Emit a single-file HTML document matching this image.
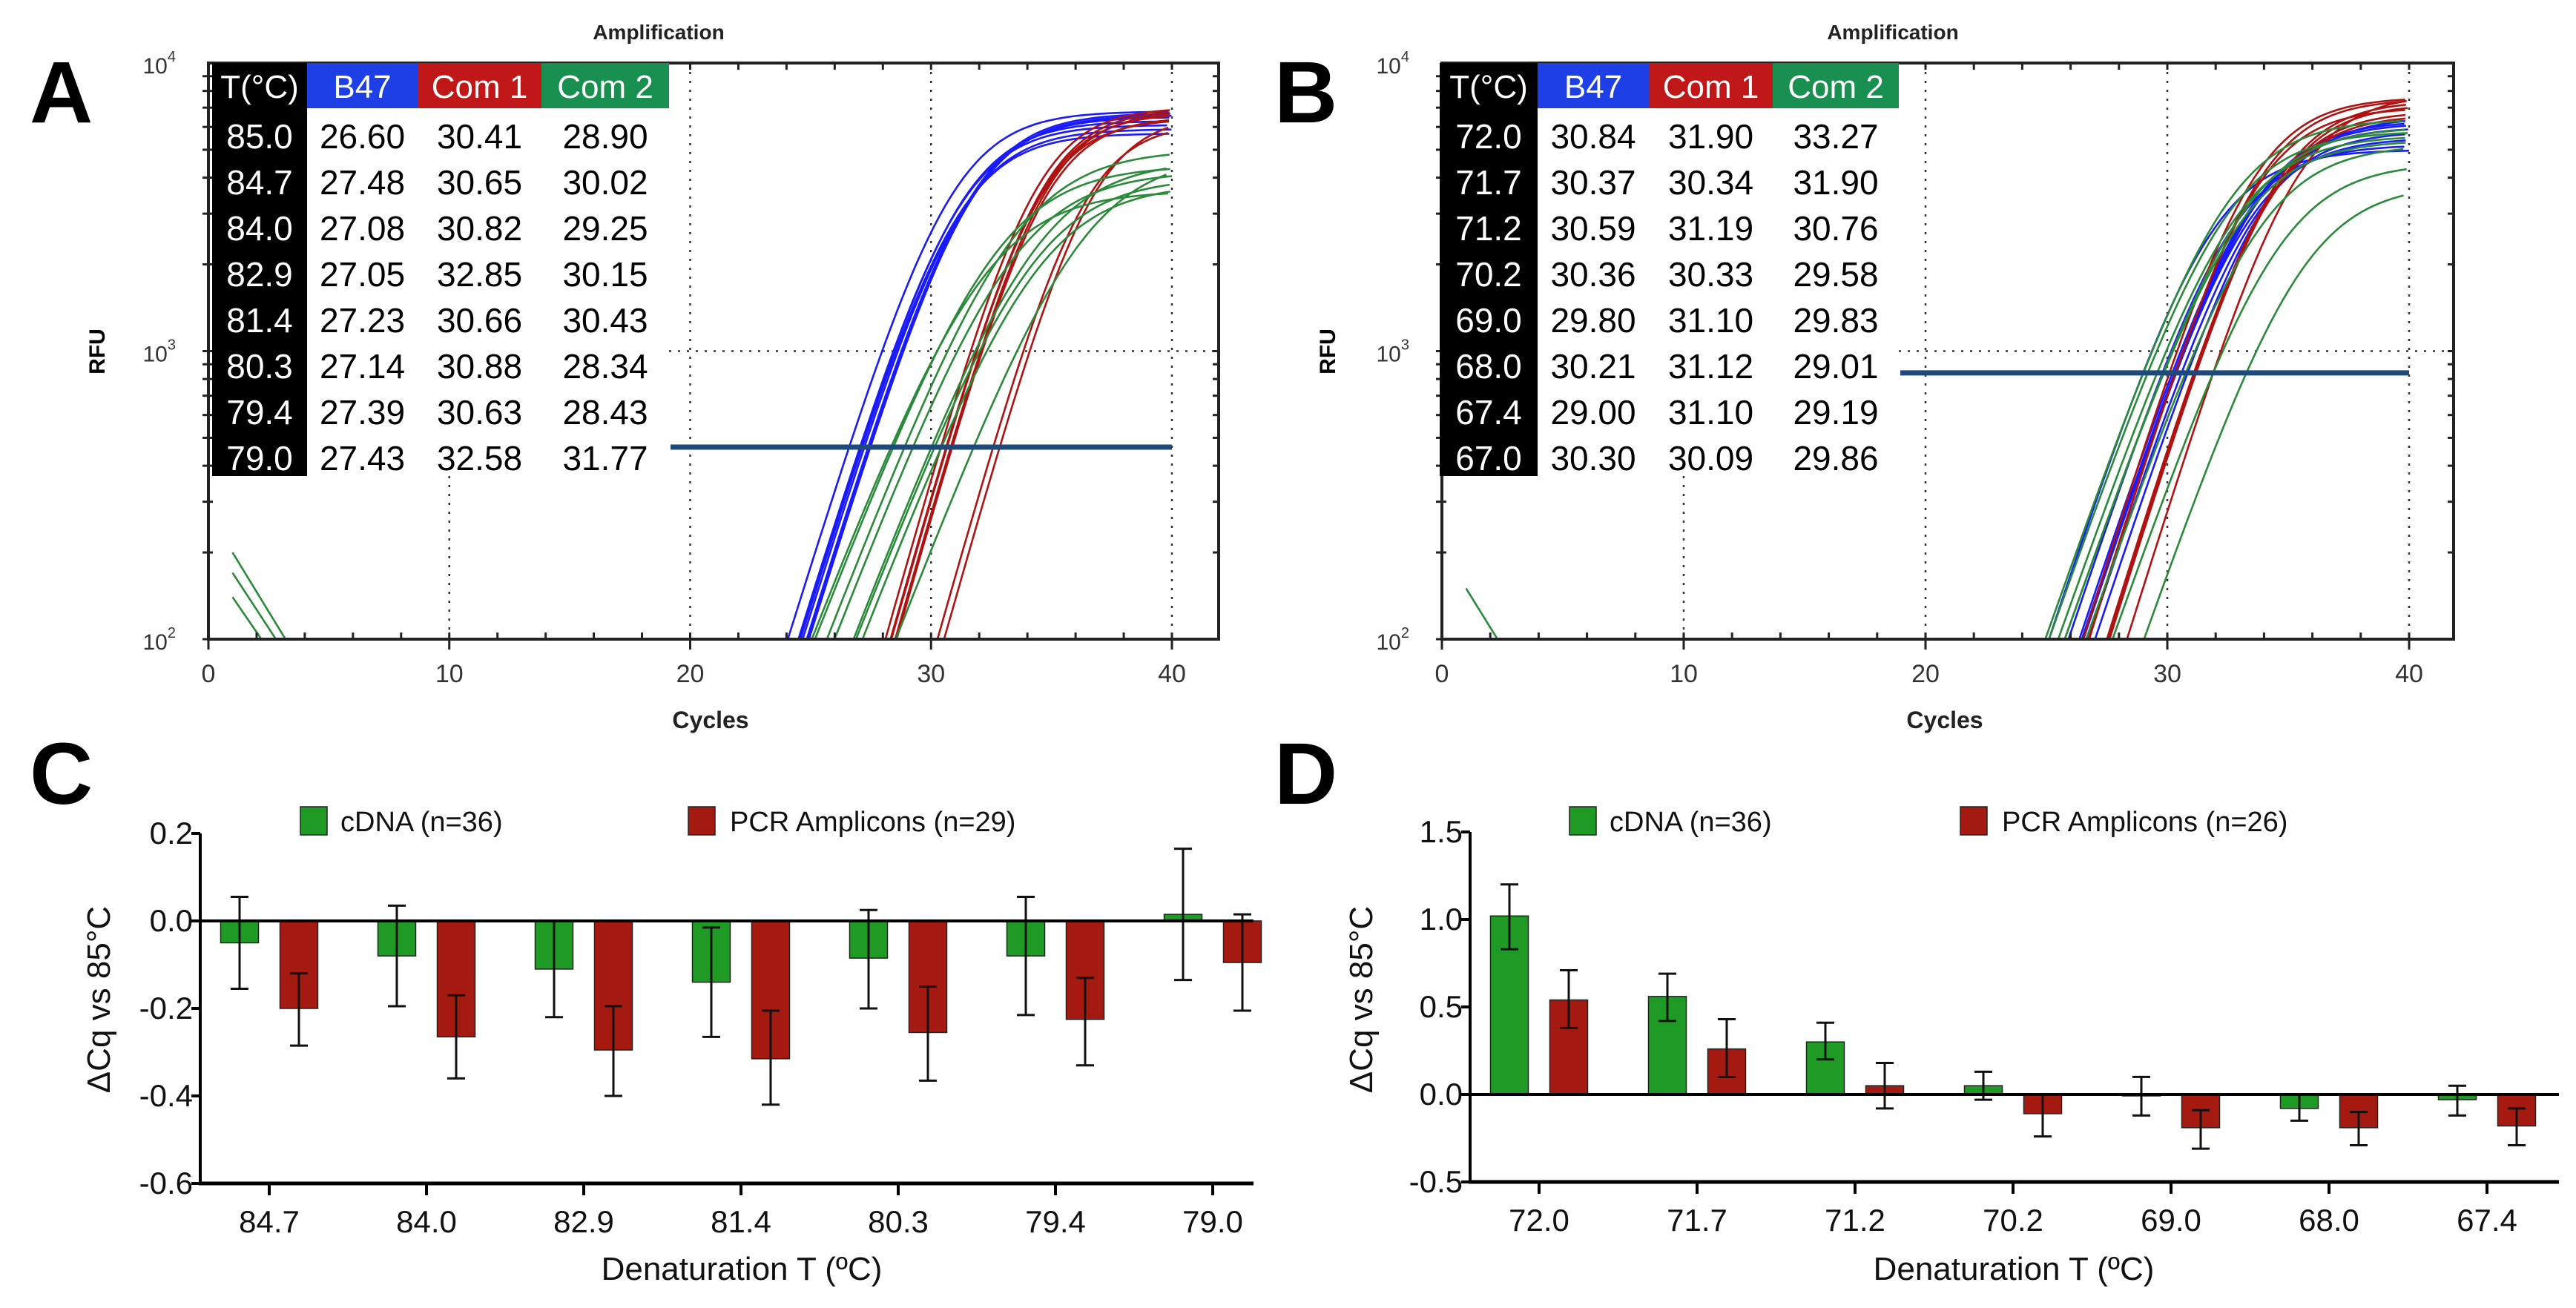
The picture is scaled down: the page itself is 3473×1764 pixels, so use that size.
<!DOCTYPE html>
<html><head><meta charset="utf-8">
<style>
html,body{margin:0;padding:0;background:#fff;}
svg{display:block;font-family:"Liberation Sans",sans-serif;}
</style></head>
<body>
<svg id="fig" width="3473" height="1764" viewBox="0 0 3473 1764" xmlns="http://www.w3.org/2000/svg"></svg>
<script>
// ---------- DATA ----------
// Panel A table / Cq values
const tempsA = ["85.0","84.7","84.0","82.9","81.4","80.3","79.4","79.0"];
const cqA_B47 = [26.60,27.48,27.08,27.05,27.23,27.14,27.39,27.43];
const cqA_Com1 = [30.41,30.65,30.82,32.85,30.66,30.88,30.63,32.58];
const cqA_Com2 = [28.90,30.02,29.25,30.15,30.43,28.34,28.43,31.77];
const plateauA_B47 = [6800,6600,6300,6100,5900,5700,6500,6700];
const plateauA_Com1 = [7000,6900,6800,6600,6700,6500,6400,6200];
const plateauA_Com2 = [5000,4600,4200,4000,3800,3600,4400,4800];
const thresholdA = 464;
// Panel B table / Cq values
const tempsB = ["72.0","71.7","71.2","70.2","69.0","68.0","67.4","67.0"];
const cqB_B47 = [30.84,30.37,30.59,30.36,29.80,30.21,29.00,30.30];
const cqB_Com1 = [31.90,30.34,31.19,30.33,31.10,31.12,31.10,30.09];
const cqB_Com2 = [33.27,31.90,30.76,29.58,29.83,29.01,29.19,29.86];
const plateauB_B47 = [6500,6200,5800,5500,5200,6000,5000,6300];
const plateauB_Com1 = [7800,7500,7200,7000,6800,7400,6600,7600];
const plateauB_Com2 = [3800,4500,5200,5600,6000,6400,5800,5400];
const thresholdB = 840;
// Panel C
const catsC = ["84.7","84.0","82.9","81.4","80.3","79.4","79.0"];
const cDNA_C = [-0.05,-0.08,-0.11,-0.14,-0.085,-0.08,0.015];
const cDNA_C_lo = [-0.155,-0.195,-0.22,-0.265,-0.2,-0.215,-0.135];
const cDNA_C_hi = [0.055,0.035,0.0,-0.015,0.025,0.055,0.165];
const pcr_C = [-0.2,-0.265,-0.295,-0.315,-0.255,-0.225,-0.095];
const pcr_C_lo = [-0.285,-0.36,-0.4,-0.42,-0.365,-0.33,-0.205];
const pcr_C_hi = [-0.12,-0.17,-0.195,-0.205,-0.15,-0.13,0.015];
const ticksC = [0.2,0.0,-0.2,-0.4,-0.6];
const tickLabelsC = ["0.2","0.0","-0.2","-0.4","-0.6"];
// Panel D
const catsD = ["72.0","71.7","71.2","70.2","69.0","68.0","67.4"];
const cDNA_D = [1.02,0.56,0.30,0.05,0.0,-0.08,-0.03];
const cDNA_D_lo = [0.83,0.42,0.20,-0.03,-0.12,-0.15,-0.12];
const cDNA_D_hi = [1.20,0.69,0.41,0.13,0.10,0.0,0.05];
const pcr_D = [0.54,0.26,0.05,-0.11,-0.19,-0.19,-0.18];
const pcr_D_lo = [0.38,0.10,-0.08,-0.24,-0.31,-0.29,-0.29];
const pcr_D_hi = [0.71,0.43,0.18,0.0,-0.09,-0.10,-0.08];
const ticksD = [1.5,1.0,0.5,0.0,-0.5];
const tickLabelsD = ["1.5","1.0","0.5","0.0","-0.5"];

// ---------- helpers ----------
const NS="http://www.w3.org/2000/svg";
const svg=document.getElementById('fig');
function mk(tag,attrs,parent){const e=document.createElementNS(NS,tag);for(const k in attrs)e.setAttribute(k,attrs[k]);(parent||svg).appendChild(e);return e;}
function txt(s,attrs,parent){const e=mk('text',attrs,parent);e.textContent=s;return e;}

const BLUE="#1a1aff",RED="#b01212",GREEN="#2a8a3a";

function letter(ch,x,y,name){
  const t=txt(ch,{x:x,y:y,'font-size':118,'font-weight':'bold','font-family':'"Liberation Sans",sans-serif'});
  
  
}

function ampPanel(cfg){
  const g=mk('g',{});
  
  
  const x0=cfg.x0,x40=cfg.x40,xr=cfg.xr,yt=85,yb=862;
  const xs=c=>x0+(x40-x0)*c/40;
  const ys=v=>yb-(Math.log10(v)-2)/2*(yb-yt);
  // title
  const ti=txt('Amplification',{x:cfg.titleX,y:53,'font-size':28,'font-weight':'bold','text-anchor':'middle',fill:'#222'},g);
  
  
  // gridlines dotted
  const tableR=cfg.cols[4], tableB=85+61+8*62;
  [10,20,30,40].forEach(c=>{
    const x=xs(c);const top=(x<tableR)?tableB:yt;
    const l=mk('line',{x1:x,y1:top,x2:x,y2:yb,stroke:'#333','stroke-width':2.5,'stroke-dasharray':'3,9'},g);
    
    
  });
  const hg=mk('line',{x1:tableR,y1:ys(1000),x2:xr,y2:ys(1000),stroke:'#333','stroke-width':2.5,'stroke-dasharray':'3,9'},g);
  
  
  // curves
  const clip=mk('clipPath',{id:'clip'+cfg.name},g);
  mk('rect',{x:x0,y:yt,width:xr-x0,height:yb-yt},clip);
  const cg=mk('g',{'clip-path':'url(#clip'+cfg.name+')'},g);
  cfg.series.forEach(s=>{
    s.cq.forEach((cq,i)=>{
      const F=s.plateau[i],sl=s.slope;
      const cm=cq+sl*Math.log(F/cfg.thr-1);
      let d='';
      for(let c=cq-6;c<=40.001;c+=0.25){
        const v=F/(1+Math.exp(-(c-cm)/sl));
        d+=(d?'L':'M')+xs(c).toFixed(1)+','+ys(Math.max(v,20)).toFixed(1);
      }
      const p=mk('path',{d:d,fill:'none',stroke:s.color,'stroke-width':2.6},cg);
      
      
    });
  });
  // early drift fragments
  cfg.drift.forEach(dv=>{
    const p=mk('path',{d:'M'+xs(1)+','+ys(dv[0])+' L'+xs(dv[2])+','+ys(dv[1]),fill:'none',stroke:GREEN,'stroke-width':2.6},cg);
    
    
  });
  // threshold
  const th=mk('line',{x1:tableR+2,y1:ys(cfg.thr),x2:x40,y2:ys(cfg.thr),stroke:'#1d4a7a','stroke-width':7},g);
  
  
  // frame
  const fr=mk('rect',{x:x0,y:yt,width:xr-x0,height:yb-yt,fill:'none',stroke:'#222','stroke-width':4},g);
  
  
  // x ticks
  for(let c=0;c<=42;c+=2){
    const x=xs(c);if(x>xr)break;
    const big=c%10===0;
    mk('line',{x1:x,y1:yb-9,x2:x,y2:yb+(big?14:0),stroke:'#222','stroke-width':3},g);
    mk('line',{x1:x,y1:yt,x2:x,y2:yt+9,stroke:'#222','stroke-width':3},g);
    if(big){const t=txt(String(c),{x:x,y:920,'font-size':34,'text-anchor':'middle',fill:'#333'},g);
      
      }
  }
  // y ticks log
  for(let e=2;e<4;e++)for(let m=1;m<10;m++){
    const y=ys(m*Math.pow(10,e));
    mk('line',{x1:x0-8,y1:y,x2:x0+(m===1?12:6),y2:y,stroke:'#222','stroke-width':3},g);
    mk('line',{x1:xr-8,y1:y,x2:xr,y2:y,stroke:'#222','stroke-width':3},g);
  }
  [2,3,4].forEach(e=>{
    const y=ys(Math.pow(10,e));
    const t=txt('10',{x:x0-44,y:y+14,'font-size':30,'text-anchor':'end',fill:'#333'},g);
    const sup=mk('tspan',{dy:-16,'font-size':20},t);sup.textContent=String(e);
    
    
  });
  const ya=txt('RFU',{x:0,y:0,'font-size':30,'font-weight':'bold','text-anchor':'middle',transform:'translate('+(cfg.rfuX)+',474) rotate(-90)'},g);
  
  
  const xa=txt('Cycles',{x:cfg.titleX+70,y:982,'font-size':32,'font-weight':'bold','text-anchor':'middle',fill:'#222'},g);
  
  
  // table
  const tb=mk('g',{},g);
  
  
  const cols=cfg.cols;
  mk('rect',{x:cols[0],y:85,width:cols[1]-cols[0],height:61+8*62,fill:'#000'},tb);
  mk('rect',{x:cols[1],y:85,width:cols[2]-cols[1],height:61,fill:'#1f3fe6'},tb);
  mk('rect',{x:cols[2],y:85,width:cols[3]-cols[2],height:61,fill:'#c01818'},tb);
  mk('rect',{x:cols[3],y:85,width:cols[4]-cols[3],height:61,fill:'#1a9050'},tb);
  mk('rect',{x:cols[1],y:146,width:cols[4]-cols[1],height:8*62,fill:'#fff'},tb);
  const heads=['T(°C)','B47','Com 1','Com 2'];
  heads.forEach((h,i)=>{const t=txt(h,{x:(cols[i]+cols[i+1])/2,y:132,'font-size':44,'text-anchor':'middle',fill:'#fff'},tb);
    
    });
  const colsData=[cfg.temps,cfg.series[0].cq,cfg.series[1].cq,cfg.series[2].cq];
  for(let r=0;r<8;r++){
    colsData.forEach((arr,i)=>{
      const v=(typeof arr[r]==='number')?arr[r].toFixed(2):arr[r];
      const t=txt(v,{x:(cols[i]+cols[i+1])/2,y:200+r*62,'font-size':46,'text-anchor':'middle',fill:i===0?'#fff':'#000'},tb);
      
      
    });
  }
}

function barPanel(cfg){
  const g=mk('g',{});
  
  
  const ys=v=>cfg.y0-v*cfg.k;
  const xc=i=>cfg.cx0+i*cfg.step;
  const yBot=ys(cfg.ticks[cfg.ticks.length-1]);
  function bars(vals,lo,hi,off,color,key){
    vals.forEach((v,i)=>{
      const x=xc(i)+off-25.5;const y1=Math.min(ys(v),ys(0)),h=Math.abs(ys(v)-ys(0));
      const r=mk('rect',{x:x,y:y1,width:51,height:Math.max(h,2),fill:color,stroke:'#222','stroke-width':1.5},g);
      
      
      const cx=xc(i)+off;
      const eb=mk('path',{d:'M'+cx+','+ys(hi[i])+'V'+ys(lo[i])+'M'+(cx-12)+','+ys(hi[i])+'h24M'+(cx-12)+','+ys(lo[i])+'h24',stroke:'#111','stroke-width':3,fill:'none'},g);
      
      
    });
  }
  bars(cfg.g,cfg.glo,cfg.ghi,-40,'#1f9a24','cdna');
  bars(cfg.r,cfg.rlo,cfg.rhi,40,'#a51a10','pcr');
  // zero line
  const z=mk('line',{x1:cfg.ax,y1:ys(0),x2:cfg.axR,y2:ys(0),stroke:'#000','stroke-width':4},g);
  
  
  // axes
  const ya=mk('line',{x1:cfg.ax,y1:ys(cfg.ticks[0]),x2:cfg.ax,y2:yBot+2,stroke:'#000','stroke-width':4},g);
  
  
  const xa=mk('line',{x1:cfg.ax-2,y1:yBot,x2:cfg.axR,y2:yBot,stroke:'#000','stroke-width':5},g);
  
  
  cfg.ticks.forEach((t,i)=>{
    mk('line',{x1:cfg.ax-12,y1:ys(t),x2:cfg.ax,y2:ys(t),stroke:'#000','stroke-width':4},g);
    const l=txt(cfg.tickLabels[i],{x:cfg.ax-10,y:ys(t)+14,'font-size':42,'text-anchor':'end',fill:'#111'},g);
    
    
  });
  cfg.cats.forEach((c,i)=>{
    mk('line',{x1:xc(i),y1:yBot,x2:xc(i),y2:yBot+16,stroke:'#000','stroke-width':4},g);
    const l=txt(c,{x:xc(i),y:yBot+66,'font-size':42,'text-anchor':'middle',fill:'#111'},g);
    
    
  });
  const yt=txt('ΔCq vs 85°C',{x:0,y:0,'font-size':44,'text-anchor':'middle',fill:'#111',transform:'translate('+cfg.ytX+',1348) rotate(-90)'},g);
  
  
  const xt=txt('Denaturation T (ºC)',{x:cfg.xtX,y:1726,'font-size':44,'text-anchor':'middle',fill:'#111'},g);
  
  
  // legend
  const lg=mk('g',{},g);
  
  
  const e1=mk('rect',{x:cfg.leg[0],y:1088,width:36,height:38,fill:'#1f9a24',stroke:'#222','stroke-width':1.5},lg);
  
  
  const t1=txt('cDNA (n=36)',{x:cfg.leg[0]+54,y:1121,'font-size':38,fill:'#111'},lg);
  
  
  const e2=mk('rect',{x:cfg.leg[1],y:1088,width:36,height:38,fill:'#a51a10',stroke:'#222','stroke-width':1.5},lg);
  
  
  const t2=txt(cfg.pcrLabel,{x:cfg.leg[1]+56,y:1121,'font-size':38,fill:'#111'},lg);
  
  
}

letter('A',40,165,'panel-label-a');
letter('B',1718,165,'panel-label-b');
letter('C',40,1084,'panel-label-c');
letter('D',1718,1084,'panel-label-d');

ampPanel({name:'panel-a-amplification',x0:281,x40:1580,xr:1643,titleX:888,rfuX:141,thr:thresholdA,
  cols:[286,414,563,730,902],temps:tempsA,
  series:[{key:'b47',cq:cqA_B47,plateau:plateauA_B47,color:BLUE,slope:1.6},
          {key:'com1',cq:cqA_Com1,plateau:plateauA_Com1,color:RED,slope:1.45},
          {key:'com2',cq:cqA_Com2,plateau:plateauA_Com2,color:GREEN,slope:2.0}],
  drift:[[200,100,3.2],[170,100,2.8],[140,100,2.2]]});
ampPanel({name:'panel-b-amplification',x0:1944,x40:3248,xr:3308,titleX:2552,rfuX:1800,thr:thresholdB,
  cols:[1941,2073,2223,2390,2560],temps:tempsB,
  series:[{key:'b47',cq:cqB_B47,plateau:plateauB_B47,color:BLUE,slope:1.7},
          {key:'com1',cq:cqB_Com1,plateau:plateauB_Com1,color:RED,slope:1.6},
          {key:'com2',cq:cqB_Com2,plateau:plateauB_Com2,color:GREEN,slope:1.8}],
  drift:[[150,100,2.3]]});

barPanel({name:'panel-c-bar-chart',cats:catsC,g:cDNA_C,glo:cDNA_C_lo,ghi:cDNA_C_hi,r:pcr_C,rlo:pcr_C_lo,rhi:pcr_C_hi,
  ticks:ticksC,tickLabels:tickLabelsC,y0:1242,k:590,cx0:363,step:212,ax:270,axR:1690,ytX:148,xtX:1000,
  leg:[405,928],pcrLabel:'PCR Amplicons (n=29)'});
barPanel({name:'panel-d-bar-chart',cats:catsD,g:cDNA_D,glo:cDNA_D_lo,ghi:cDNA_D_hi,r:pcr_D,rlo:pcr_D_lo,rhi:pcr_D_hi,
  ticks:ticksD,tickLabels:tickLabelsD,y0:1476,k:236,cx0:2075,step:213,ax:1982,axR:3450,ytX:1850,xtX:2715,
  leg:[2116,2643],pcrLabel:'PCR Amplicons (n=26)'});
</script>
</body></html>
